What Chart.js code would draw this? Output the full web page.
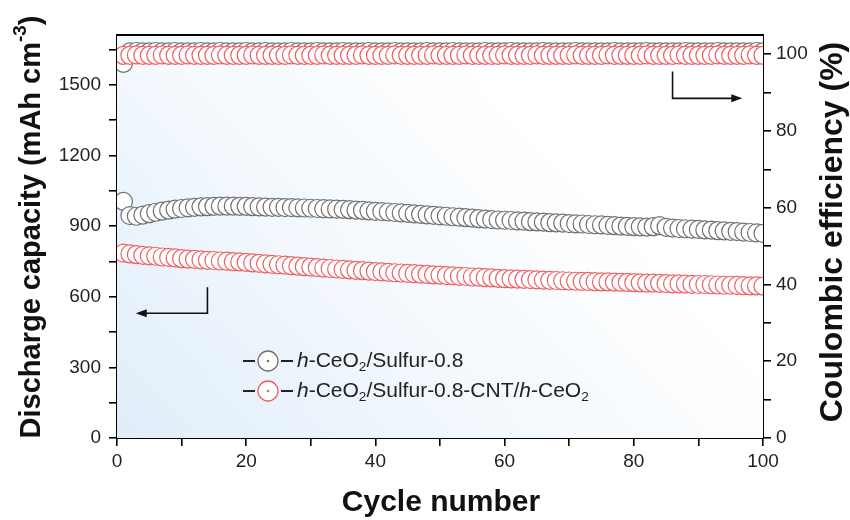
<!DOCTYPE html>
<html>
<head>
<meta charset="utf-8">
<script src="https://cdn.jsdelivr.net/npm/chart.js@4.4.1/dist/chart.umd.min.js"></script>
<style>
  html, body { margin: 0; padding: 0; background: #fff; }
  #wrap { width: 850px; height: 520px; }
</style>
</head>
<body>
<div id="wrap"><canvas id="chart" width="850" height="520"></canvas></div>
<script>
// cycle numbers 1..100
var cycles = [];
for (var c = 1; c <= 100; c++) cycles.push(c);

// tick positions (labels only on every other one)
var xTicks = [0, 10, 20, 30, 40, 50, 60, 70, 80, 90, 100];
var capTicks = [0, 150, 300, 450, 600, 750, 900, 1050, 1200, 1350, 1500, 1650];
var ceTicks = [0, 10, 20, 30, 40, 50, 60, 70, 80, 90, 100];

// discharge capacity (mAh cm-3)
var capGrey = [
  1005, 945, 942, 947, 953, 959, 964, 968, 972, 975,
  978, 980, 982, 983, 984, 985, 985, 985, 984, 984,
  983, 982, 981, 980, 980, 979, 979, 978, 977, 976,
  975, 974, 973, 972, 971, 970, 968, 967, 965, 963,
  962, 960, 958, 956, 954, 952, 950, 948, 946, 944,
  942, 940, 938, 936, 934, 932, 930, 928, 926, 925,
  924, 922, 921, 919, 918, 917, 915, 914, 913, 911,
  910, 909, 907, 906, 905, 903, 902, 900, 899, 898,
  897, 896, 898, 902, 895, 892, 890, 889, 887, 886,
  884, 883, 881, 880, 878, 877, 875, 873, 871, 869
];
var capRed = [
  785, 782, 779, 776, 774, 772, 769, 767, 765, 762,
  760, 759, 757, 755, 754, 752, 751, 749, 748, 746,
  744, 742, 740, 738, 736, 734, 732, 730, 728, 726,
  724, 722, 720, 718, 716, 714, 712, 711, 709, 707,
  706, 704, 702, 701, 699, 698, 696, 695, 693, 692,
  690, 689, 687, 686, 684, 683, 681, 680, 678, 677,
  676, 675, 674, 673, 672, 671, 670, 669, 668, 667,
  666, 665, 665, 664, 663, 663, 662, 661, 661, 660,
  659, 658, 658, 657, 656, 655, 655, 654, 653, 652,
  652, 651, 650, 649, 649, 648, 647, 646, 646, 645
];

// coulombic efficiency (%)
var ceGrey = [
  97.6, 100.6, 100.7, 100.6, 100.6, 100.7, 100.6, 100.6, 100.7, 100.6,
  100.6, 100.6, 100.7, 100.6, 100.6, 100.7, 100.6, 100.6, 100.6, 100.7,
  100.6, 100.6, 100.7, 100.6, 100.6, 100.6, 100.7, 100.6, 100.6, 100.6,
  100.7, 100.6, 100.6, 100.6, 100.7, 100.6, 100.6, 100.6, 100.7, 100.6,
  100.6, 100.6, 100.7, 100.6, 100.6, 100.6, 100.6, 100.7, 100.6, 100.6,
  100.6, 100.7, 100.6, 100.6, 100.6, 100.6, 100.7, 100.6, 100.6, 100.6,
  100.7, 100.6, 100.6, 100.6, 100.6, 100.7, 100.6, 100.6, 100.6, 100.6,
  100.7, 100.6, 100.6, 100.6, 100.6, 100.6, 100.7, 100.6, 100.6, 100.6,
  100.6, 100.7, 100.6, 100.6, 100.6, 100.6, 100.6, 100.7, 100.6, 100.6,
  100.6, 100.6, 100.7, 100.6, 100.6, 100.6, 100.6, 100.6, 100.7, 100.6
];
var ceRed = [
  99.7, 99.7, 99.8, 99.7, 99.7, 99.7, 99.8, 99.7, 99.7, 99.7,
  99.8, 99.7, 99.7, 99.7, 99.7, 99.8, 99.7, 99.7, 99.7, 99.7,
  99.8, 99.7, 99.7, 99.7, 99.7, 99.7, 99.8, 99.7, 99.7, 99.7,
  99.7, 99.8, 99.7, 99.7, 99.7, 99.7, 99.7, 99.8, 99.7, 99.7,
  99.7, 99.7, 99.8, 99.7, 99.7, 99.7, 99.7, 99.7, 99.8, 99.7,
  99.7, 99.7, 99.7, 99.8, 99.7, 99.7, 99.7, 99.7, 99.7, 99.8,
  99.7, 99.7, 99.7, 99.7, 99.8, 99.7, 99.7, 99.7, 99.7, 99.7,
  99.8, 99.7, 99.7, 99.7, 99.7, 99.8, 99.7, 99.7, 99.7, 99.7,
  99.7, 99.8, 99.7, 99.7, 99.7, 99.7, 99.8, 99.7, 99.7, 99.7,
  99.7, 99.7, 99.8, 99.7, 99.7, 99.7, 99.7, 99.8, 99.7, 99.7
];

var GREY = '#707070';
var RED = '#ec6064';
var FONT = '"Liberation Sans", Arial, sans-serif';

function pts(ys) {
  return cycles.map(function (x, i) { return { x: x, y: ys[i] }; });
}

function series(ys, color, axis, order) {
  return {
    data: pts(ys),
    yAxisID: axis,
    order: order,
    borderColor: color,
    borderWidth: 1,
    showLine: true,
    pointRadius: 9,
    pointHoverRadius: 9,
    pointBorderWidth: 1.2,
    pointBorderColor: color,
    pointBackgroundColor: 'rgba(255,255,255,0.92)'
  };
}

// light blue wash in the plot area, plus the top frame line
var backdrop = {
  id: 'backdrop',
  beforeDatasetsDraw: function (chart) {
    var a = chart.chartArea, ctx = chart.ctx;
    var g = ctx.createLinearGradient(a.left, a.bottom, a.left + 380, a.top + 40);
    g.addColorStop(0, '#e0edf9');
    g.addColorStop(0.5, '#f2f8fd');
    g.addColorStop(1, '#ffffff');
    ctx.save();
    ctx.fillStyle = g;
    ctx.fillRect(a.left, a.top, a.right - a.left, a.bottom - a.top);
    ctx.restore();
  },
  afterDraw: function (chart) {
    var a = chart.chartArea, ctx = chart.ctx;
    ctx.save();
    ctx.strokeStyle = '#000';
    ctx.lineWidth = 2;
    ctx.beginPath();
    ctx.moveTo(a.left - 1, a.top);
    ctx.lineTo(a.right + 1, a.top);
    ctx.stroke();
    ctx.restore();
  }
};

// draw a run of text pieces: [text, italic, sub, sup]
function drawRuns(ctx, runs, x, y, size, weight) {
  runs.forEach(function (r) {
    var small = r[2] || r[3];
    var s = small ? size * 0.65 : size;
    ctx.font = (r[1] ? 'italic ' : '') + (weight || '') + ' ' + s + 'px ' + FONT;
    var dy = r[2] ? size * 0.3 : (r[3] ? -size * 0.38 : 0);
    ctx.fillText(r[0], x, y + dy);
    x += ctx.measureText(r[0]).width;
  });
}

function runsWidth(ctx, runs, size, weight) {
  var w = 0;
  runs.forEach(function (r) {
    var s = (r[2] || r[3]) ? size * 0.65 : size;
    ctx.font = (r[1] ? 'italic ' : '') + (weight || '') + ' ' + s + 'px ' + FONT;
    w += ctx.measureText(r[0]).width;
  });
  return w;
}

var extras = {
  id: 'extras',
  afterDraw: function (chart) {
    var ctx = chart.ctx, xs = chart.scales.x, yl = chart.scales.y, yr = chart.scales.y2;
    var a = chart.chartArea;
    ctx.save();
    // direction arrows
    ctx.strokeStyle = '#111';
    ctx.fillStyle = '#111';
    ctx.lineWidth = 1.6;
    var ax = xs.getPixelForValue(14), ay0 = yl.getPixelForValue(640), ay1 = yl.getPixelForValue(530);
    var aend = xs.getPixelForValue(2.9);
    ctx.beginPath();
    ctx.moveTo(ax, ay0); ctx.lineTo(ax, ay1); ctx.lineTo(aend + 8, ay1);
    ctx.stroke();
    ctx.beginPath();
    ctx.moveTo(aend, ay1); ctx.lineTo(aend + 11, ay1 - 4); ctx.lineTo(aend + 11, ay1 + 4); ctx.closePath();
    ctx.fill();

    var bx = xs.getPixelForValue(86), by0 = yr.getPixelForValue(95.5), by1 = yr.getPixelForValue(88.5);
    var bend = xs.getPixelForValue(96.8);
    ctx.beginPath();
    ctx.moveTo(bx, by0); ctx.lineTo(bx, by1); ctx.lineTo(bend - 8, by1);
    ctx.stroke();
    ctx.beginPath();
    ctx.moveTo(bend, by1); ctx.lineTo(bend - 11, by1 - 4); ctx.lineTo(bend - 11, by1 + 4); ctx.closePath();
    ctx.fill();

    // legend
    var items = [
      { color: GREY, runs: [['h', true], ['-CeO'], ['2', false, true], ['/Sulfur-0.8']] },
      { color: RED, runs: [['h', true], ['-CeO'], ['2', false, true], ['/Sulfur-0.8-CNT/'], ['h', true], ['-CeO'], ['2', false, true]] }
    ];
    var lx = 243, ly = 361;
    items.forEach(function (it, i) {
      var y = ly + i * 30;
      ctx.strokeStyle = '#222';
      ctx.lineWidth = 2;
      ctx.beginPath();
      ctx.moveTo(lx, y); ctx.lineTo(lx + 12, y);
      ctx.moveTo(lx + 38, y); ctx.lineTo(lx + 50, y);
      ctx.stroke();
      ctx.strokeStyle = it.color;
      ctx.lineWidth = 1.3;
      ctx.fillStyle = '#fff';
      ctx.beginPath();
      ctx.arc(lx + 25, y, 10, 0, Math.PI * 2);
      ctx.fill(); ctx.stroke();
      ctx.fillStyle = it.color;
      ctx.beginPath();
      ctx.arc(lx + 25, y, 1.3, 0, Math.PI * 2);
      ctx.fill();
      ctx.fillStyle = '#222';
      ctx.textAlign = 'left';
      ctx.textBaseline = 'middle';
      drawRuns(ctx, it.runs, lx + 54, y, 21);
    });

    // axis titles
    ctx.fillStyle = '#111';
    ctx.textBaseline = 'middle';
    ctx.textAlign = 'left';

    var leftRuns = [['Discharge capacity (mAh cm'], ['-3', false, false, true], [')']];
    var lw = runsWidth(ctx, leftRuns, 29, 'bold');
    ctx.save();
    ctx.translate(32, 227);
    ctx.rotate(-Math.PI / 2);
    drawRuns(ctx, leftRuns, -lw / 2, 0, 29, 'bold');
    ctx.restore();

    ctx.save();
    ctx.font = 'bold 32px ' + FONT;
    ctx.textAlign = 'center';
    ctx.translate(833, 232);
    ctx.rotate(-Math.PI / 2);
    ctx.fillText('Coulombic efficiency (%)', 0, 0);
    ctx.restore();

    ctx.font = 'bold 30px ' + FONT;
    ctx.textAlign = 'center';
    ctx.fillText('Cycle number', (a.left + a.right) / 2 + 1, 503);
    ctx.restore();
  }
};

function setTicks(values) {
  return function (scale) {
    scale.ticks = values.map(function (v) { return { value: v }; });
  };
}

function axisGrid() {
  return { display: true, drawOnChartArea: false, drawTicks: true, tickLength: 8, color: '#000', lineWidth: 1.6 };
}

var tickFont = { family: FONT, size: 19 };

new Chart(document.getElementById('chart').getContext('2d'), {
  type: 'scatter',
  data: {
    datasets: [
      series(ceGrey, GREY, 'y2', 4),
      series(ceRed, RED, 'y2', 3),
      series(capGrey, GREY, 'y', 2),
      series(capRed, RED, 'y', 1)
    ]
  },
  options: {
    responsive: false,
    animation: false,
    layout: { padding: { top: 35, left: 0, right: 0, bottom: 0 } },
    plugins: { legend: { display: false }, tooltip: { enabled: false } },
    scales: {
      x: {
        type: 'linear', min: 0, max: 100,
        border: { display: true, color: '#000', width: 2 },
        grid: axisGrid(),
        ticks: {
          color: '#222', font: tickFont, padding: 4, maxRotation: 0, autoSkip: false,
          callback: function (v) { return v % 20 === 0 ? v : ''; }
        },
        afterBuildTicks: setTicks(xTicks),
        afterFit: function (s) { s.height = 82; }
      },
      y: {
        type: 'linear', position: 'left', min: 0, max: 1712,
        border: { display: true, color: '#000', width: 2 },
        grid: axisGrid(),
        ticks: {
          color: '#222', font: tickFont, padding: 8, autoSkip: false,
          callback: function (v) { return v % 300 === 0 ? v : ''; }
        },
        afterBuildTicks: setTicks(capTicks),
        afterFit: function (s) { s.width = 117; }
      },
      y2: {
        type: 'linear', position: 'right', min: 0, max: 105,
        border: { display: true, color: '#000', width: 2 },
        grid: axisGrid(),
        ticks: {
          color: '#222', font: tickFont, padding: 5, autoSkip: false,
          callback: function (v) { return v % 20 === 0 ? v : ''; }
        },
        afterBuildTicks: setTicks(ceTicks),
        afterFit: function (s) { s.width = 87; }
      }
    }
  },
  plugins: [backdrop, extras]
});
</script>
</body>
</html>
